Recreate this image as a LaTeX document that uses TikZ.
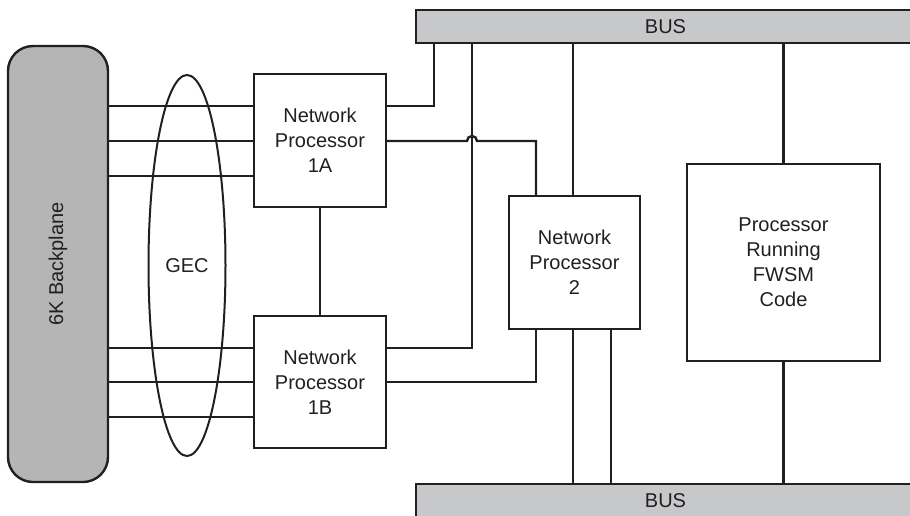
\documentclass[tikz,border=0pt]{standalone}
\usepackage{fontspec}
\setmainfont{Liberation Sans}
\usetikzlibrary{shapes.geometric}
\definecolor{ink}{HTML}{231F20}
\definecolor{bpgray}{HTML}{B5B5B5}
\definecolor{busgray}{HTML}{C7C8CA}
\begin{document}
\begin{tikzpicture}[x=1pt,y=-1pt,
  lbl/.style={font=\fontsize{20}{25}\selectfont, text=ink, align=center},
  box/.style={lbl, draw=ink, line width=2.4pt, fill=white, inner sep=0pt},
  busbar/.style={lbl, draw=ink, line width=2.4pt, fill=busgray, inner sep=0pt, minimum width=499pt, minimum height=33pt},
  wire/.style={draw=ink, line width=2.4pt}]
\useasboundingbox (0,0) rectangle (910,515);
% nodes
\node[box, fill=bpgray, rounded corners=25pt, minimum width=100pt, minimum height=436pt] (bp) at (58,264) {\rotatebox{90}{6K Backplane}};
\node[box, minimum width=132pt, minimum height=133pt] (np1a) at (320,140.5) {Network\\Processor\\1A};
\node[box, minimum width=132pt, minimum height=132pt] (np1b) at (320,382) {Network\\Processor\\1B};
\node[box, minimum width=131pt, minimum height=133pt] (np2) at (574.5,262.5) {Network\\Processor\\2};
\node[box, minimum width=193pt, minimum height=197pt] (fw) at (783.5,262.5) {Processor\\Running\\FWSM\\Code};
\node[busbar] (busT) at (665.5,26.5) {BUS};
\node[busbar] (busB) at (665.5,500.5) {BUS};
% backplane links
\foreach \y in {106,141,176} {
  \coordinate (p) at (0,\y);
  \draw[wire] (bp.east |- p) -- (np1a.west |- p);
}
\foreach \y in {348,382,417} {
  \coordinate (p) at (0,\y);
  \draw[wire] (bp.east |- p) -- (np1b.west |- p);
}
% GEC ellipse
\node[lbl, draw=ink, line width=2pt, ellipse, minimum width=77pt, minimum height=381pt, inner sep=0pt] (gec) at (187,265.5) {GEC};
% right-hand links
\coordinate (a1) at (434,106);
\draw[wire] (np1a.east |- a1) -- (a1) -- (busT.south -| a1);
\coordinate (a2) at (536,141);
\coordinate (h1) at (467,141);
\draw[wire] (np1a.east |- a2) -- (h1) arc[start angle=180, end angle=0, radius=5pt] -- (a2) -- (np2.north -| a2);
\coordinate (a3) at (472,348);
\draw[wire] (busT.south -| a3) -- (a3) -- (np1b.east |- a3);
\coordinate (a4) at (536,382);
\draw[wire] (np1b.east |- a4) -- (a4) -- (np2.south -| a4);
\coordinate (a5) at (573,0);
\draw[wire] (busT.south -| a5) -- (np2.north -| a5);
\draw[wire] (np2.south -| a5) -- (busB.north -| a5);
\coordinate (a6) at (611,0);
\draw[wire] (np2.south -| a6) -- (busB.north -| a6);
\draw[wire] (busT.south -| fw.north) -- (fw.north);
\draw[wire] (fw.south) -- (busB.north -| fw.south);
\draw[wire] (np1a.south) -- (np1b.north);
\end{tikzpicture}
\end{document}
